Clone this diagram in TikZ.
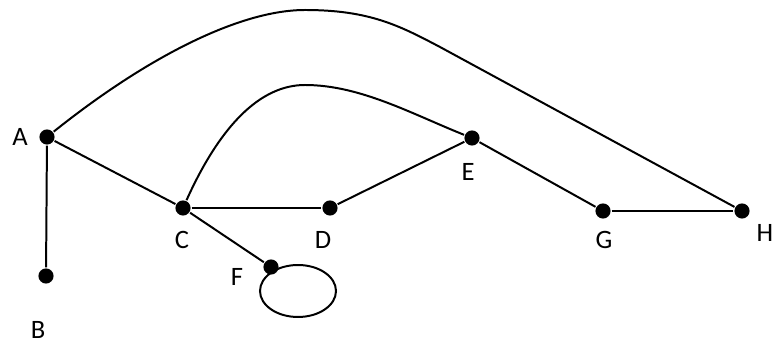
\documentclass[tikz,border=0pt]{standalone}
\usepackage{fontspec}
\setmainfont{Carlito}

\begin{document}
\begin{tikzpicture}[x=0.02646cm,y=-0.02646cm,line width=1.5pt,
    vertex/.style={circle,fill=black,inner sep=0pt,minimum size=0.4cm},
    lbl/.style={font=\fontsize{20}{24}\selectfont,inner sep=0pt}]

\useasboundingbox (0,0) rectangle (773,346);

% vertices
\node[vertex] (A) at (47,137) {};
\node[vertex] (B) at (46,276) {};
\node[vertex] (C) at (183,208) {};
\node[vertex] (D) at (330,208) {};
\node[vertex] (E) at (472,138) {};
\node[vertex] (F) at (271,267) {};
\node[vertex] (G) at (603,211) {};
\node[vertex] (H) at (742,211) {};

% labels
\node[lbl] (labA) at (20,137) {A};
\node[lbl] (labB) at (38,330) {B};
\node[lbl] (labC) at (182,240) {C};
\node[lbl] (labD) at (323,240) {D};
\node[lbl] (labE) at (468,172) {E};
\node[lbl] (labF) at (237,277) {F};
\node[lbl] (labG) at (604,240) {G};
\node[lbl] (labH) at (765,233) {H};

% straight edges
\draw (A) -- (B);
\draw (A) -- (C);
\draw (C) -- (D);
\draw (D) -- (E);
\draw (E) -- (G);
\draw (G) -- (H);
\draw (C) -- (F);

% curved edges
\draw (A) .. controls (147,57) and (240,10) .. (305,10)
    .. controls (370,10) and (400,26) .. (440,47) -- (H);
\draw (C) .. controls (220,126) and (260,85) .. (305,85)
    .. controls (360,85) and (412,114) .. (E);

% loop at F
\coordinate (Floop) at (298,291);
\draw (Floop) ellipse [x radius=38, y radius=26];

\end{tikzpicture}
\end{document}
